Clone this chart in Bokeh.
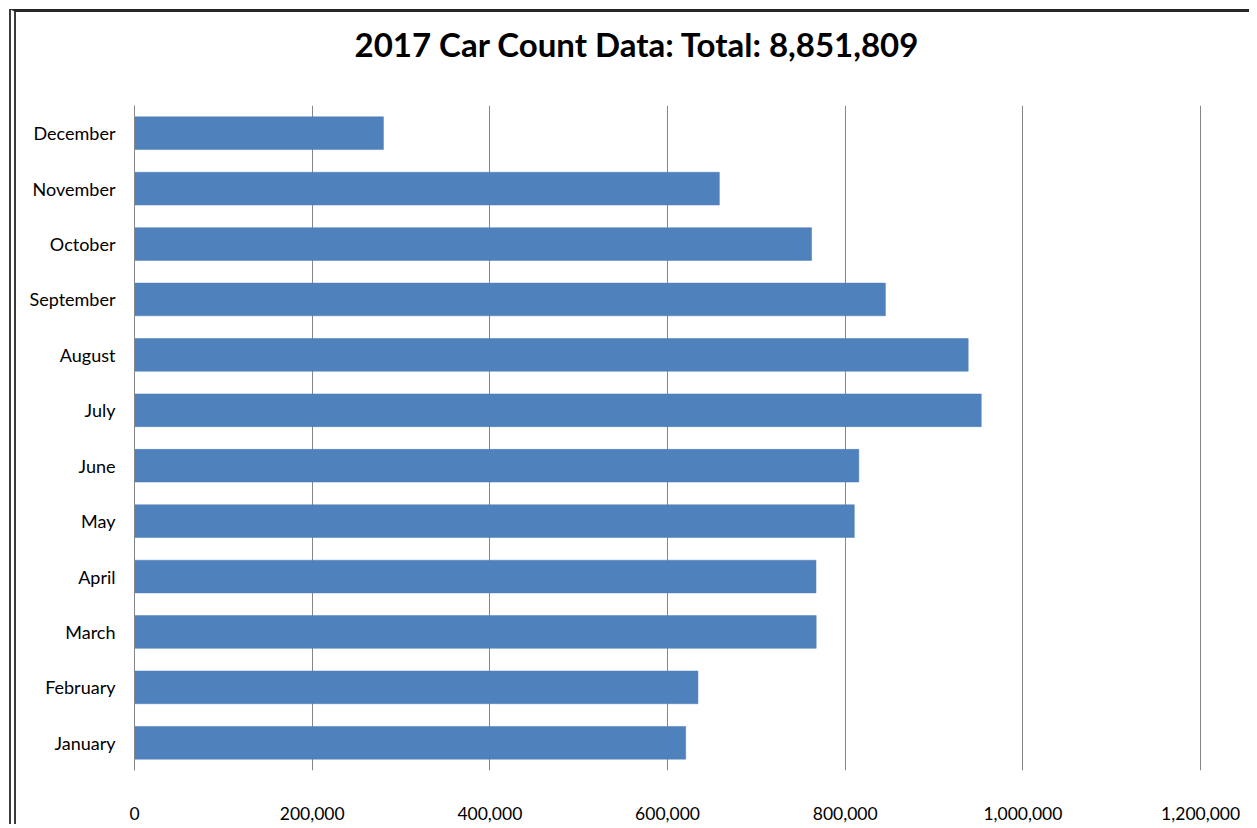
from bokeh.plotting import figure
from bokeh.models import Range1d, FixedTicker, NumeralTickFormatter, ColumnDataSource
from bokeh.embed import file_html
from bokeh.resources import INLINE

# ---- data ----
months = ["January", "February", "March", "April", "May", "June",
          "July", "August", "September", "October", "November", "December"]
car_counts = [620400, 634200, 767300, 767100, 810200, 815300,
              953100, 938400, 845200, 762100, 658300, 280200]
x_ticks = [0, 200000, 400000, 600000, 800000, 1000000, 1200000]
title_text = "2017 Car Count Data:  Total:  8,851,809"

FONT = "Lato"
W, H = 1240, 815

src = ColumnDataSource(data=dict(month=months, count=car_counts))

p = figure(width=W, height=H, y_range=months,
           x_range=Range1d(0, 1201000),
           output_backend="svg", toolbar_location=None,
           min_border_left=118, min_border_right=55,
           min_border_top=93, min_border_bottom=57)

p.hbar(y="month", left=0, right="count", height=0.59, source=src,
       fill_color="#4F81BD", line_color="#4A7DB8", line_width=0.5)

# bottom value axis
xa = p.below[0]
xa.ticker = FixedTicker(ticks=x_ticks)
xa.formatter = NumeralTickFormatter(format="0,0")
xa.axis_line_color = None
xa.major_tick_line_color = None
xa.minor_tick_line_color = None
xa.major_label_standoff = 30
xa.major_label_text_font = FONT
xa.major_label_text_font_size = "17.5px"
xa.major_label_text_color = "#000000"

p.title.text = title_text
p.title.align = "left"
p.title.offset = 220
p.title.vertical_align = "top"
p.title.standoff = 10
p.title.text_font = FONT
p.title.text_font_size = "33px"
p.title.text_font_style = "bold"
p.title.text_color = "#000000"
if "padding" in p.title.properties():
    p.title.padding = dict(left=0, right=0, top=0, bottom=35)

ya = p.left[0]
ya.axis_line_color = "#868686"
ya.major_tick_line_color = None
ya.minor_tick_line_color = None
ya.major_label_standoff = 13
ya.major_label_text_font = FONT
ya.major_label_text_font_size = "18px"
ya.major_label_text_color = "#000000"

p.xgrid.grid_line_color = "#868686"
p.ygrid.grid_line_color = None
p.outline_line_color = None
p.background_fill_color = "#FFFFFF"
p.border_fill_color = "#FFFFFF"

p.styles = {"margin-left": "9px", "margin-top": "9px",
            "border-top": "3px solid #262626",
            "border-left": "7px double #3c3c3c"}

open("out.html", "w").write(file_html(p, INLINE))
